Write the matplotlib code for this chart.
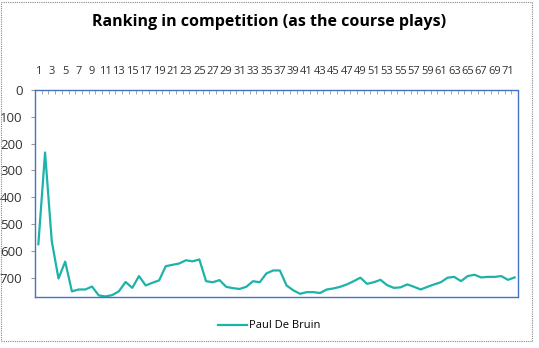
import matplotlib.pyplot as plt
import numpy as np
from matplotlib.patches import Rectangle

# Ranking per hole
rounds = np.arange(1, 73)
ranking = [575, 233, 564, 703, 640, 751, 744, 744, 733, 766,
           770, 765, 751, 716, 738, 694, 729, 719, 710, 657,
           652, 647, 635, 639, 632, 713, 717, 709, 734, 739,
           742, 734, 713, 717, 684, 673, 673, 729, 747, 760,
           754, 754, 757, 744, 740, 734, 725, 713, 700, 723,
           717, 708, 728, 738, 736, 725, 734, 744, 734, 725,
           717, 700, 697, 713, 694, 689, 699, 697, 697, 694,
           708, 699]
tick_labels = [str(r) for r in rounds[::2]]

plt.rcParams['font.family'] = ['Open Sans', 'DejaVu Sans']

fig = plt.figure(figsize=(5.39, 3.48), dpi=100)
ax = fig.add_axes([35 / 539, 1 - 297 / 348, 483 / 539, 207 / 348])

ax.plot(rounds, ranking, color='#1DB3A9', linewidth=1.6,
        label='Paul De Bruin')

ax.set_xlim(0.5, 72.5)
ax.set_ylim(772, 0)

# category axis on top, labels every second round
ax.xaxis.tick_top()
ax.set_xticks(rounds[::2])
ax.set_xticklabels(tick_labels, fontsize=8, color='#333333')
ax.set_xticks(np.arange(0.5, 73, 1), minor=True)
ax.tick_params(axis='x', which='major', length=0, pad=9)
ax.tick_params(axis='x', which='minor', length=3, color='#999999',
               direction='in')

ax.set_yticks(np.arange(0, 800, 100))
ax.tick_params(axis='y', labelsize=9.5, length=3, color='#999999',
               labelcolor='#333333', pad=6)

for side in ['top', 'bottom', 'left', 'right']:
    ax.spines[side].set_color('#4472C4')
    ax.spines[side].set_linewidth(1.0)
    ax.spines[side].set_linestyle((0, (1, 1)))

fig.suptitle('Ranking in competition (as the course plays)',
             fontsize=11.5, fontweight='bold', y=1 - 22 / 348, va='center')

fig.legend(loc='center', bbox_to_anchor=(0.5, 1 - 326 / 348),
           frameon=False, fontsize=8, handlelength=2.6, handletextpad=0.2)

# dotted outer border of the chart area
fig.patches.append(Rectangle((0.002, 0.02), 0.985, 0.975,
                             transform=fig.transFigure, fill=False,
                             edgecolor='#888888', linewidth=0.8,
                             linestyle=(0, (1, 1))))

plt.savefig('out.png', dpi=100)
